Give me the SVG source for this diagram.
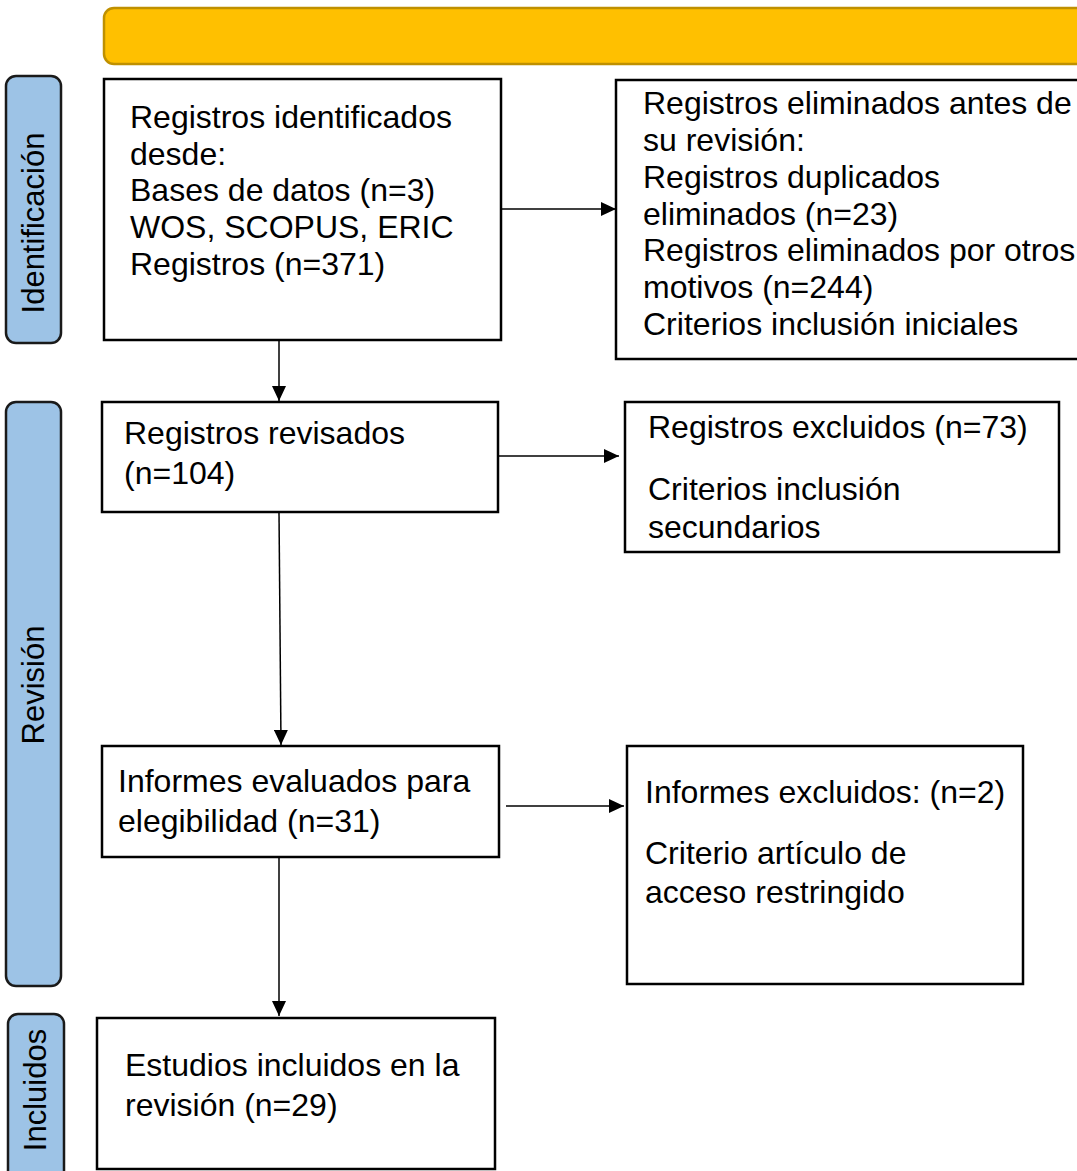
<svg xmlns="http://www.w3.org/2000/svg" width="1077" height="1171" viewBox="0 0 1077 1171">
<defs>
<marker id="ah" markerWidth="15" markerHeight="14" refX="15" refY="7" orient="auto" markerUnits="userSpaceOnUse" viewBox="0 0 15 14">
<path d="M0,0 L15,7 L0,14 Z" fill="#000"/>
</marker>
<style>
.box{fill:#fff;stroke:#000;stroke-width:2.5}
.side{fill:#9DC3E6;stroke:#1a1a1a;stroke-width:2.5}
.t{font-family:"Liberation Sans",Arial,sans-serif;font-size:32px;fill:#000}
.s{font-family:"Liberation Sans",Arial,sans-serif;font-size:31px;fill:#000;text-anchor:middle}
.c{stroke:#000;stroke-width:1.5;fill:none}
</style>
</defs>
<rect width="1077" height="1171" fill="#fff"/>
<g id="header"><rect x="104" y="8" width="1000" height="56" rx="10" fill="#FFC000" stroke="#BF9000" stroke-width="2.5"/></g>
<g id="side-identificacion"><rect x="6" y="76" width="55" height="267" rx="10" class="side"/><text class="s" transform="translate(44,223) rotate(-90)">Identificación</text></g>
<g id="side-revision"><rect x="6" y="402" width="55" height="584" rx="10" class="side"/><text class="s" transform="translate(44,685) rotate(-90)">Revisión</text></g>
<g id="side-incluidos"><rect x="8" y="1014" width="56" height="180" rx="10" class="side"/><text class="s" transform="translate(46,1090) rotate(-90)">Incluidos</text></g>
<g id="n1"><rect x="104" y="79" width="397" height="261" class="box"/>
<text class="t" x="130"><tspan x="130" y="128">Registros identificados</tspan><tspan x="130" y="165">desde:</tspan><tspan x="130" y="201">Bases de datos (n=3)</tspan><tspan x="130" y="238">WOS, SCOPUS, ERIC</tspan><tspan x="130" y="275">Registros (n=371)</tspan></text></g>
<g id="n2"><rect x="616" y="80" width="500" height="279" class="box"/>
<text class="t"><tspan x="643" y="114">Registros eliminados antes de</tspan><tspan x="643" y="151">su revisión:</tspan><tspan x="643" y="188">Registros duplicados</tspan><tspan x="643" y="225">eliminados (n=23)</tspan><tspan x="643" y="261">Registros eliminados por otros</tspan><tspan x="643" y="298">motivos (n=244)</tspan><tspan x="643" y="335">Criterios inclusión iniciales</tspan></text></g>
<g id="n3"><rect x="102" y="402" width="396" height="110" class="box"/>
<text class="t"><tspan x="124" y="444">Registros revisados</tspan><tspan x="124" y="484">(n=104)</tspan></text></g>
<g id="n4"><rect x="625" y="402" width="434" height="150" class="box"/>
<text class="t"><tspan x="648" y="438">Registros excluidos (n=73)</tspan><tspan x="648" y="500">Criterios inclusión</tspan><tspan x="648" y="538">secundarios</tspan></text></g>
<g id="n5"><rect x="102" y="746" width="397" height="111" class="box"/>
<text class="t"><tspan x="118" y="792">Informes evaluados para</tspan><tspan x="118" y="832">elegibilidad (n=31)</tspan></text></g>
<g id="n6"><rect x="627" y="746" width="396" height="238" class="box"/>
<text class="t"><tspan x="645" y="803">Informes excluidos: (n=2)</tspan><tspan x="645" y="864">Criterio artículo de</tspan><tspan x="645" y="903">acceso restringido</tspan></text></g>
<g id="n7"><rect x="97" y="1018" width="398" height="151" class="box"/>
<text class="t"><tspan x="125" y="1076">Estudios incluidos en la</tspan><tspan x="125" y="1116">revisión (n=29)</tspan></text></g>
<g id="connectors">
<line x1="501" y1="209" x2="616" y2="209" class="c" marker-end="url(#ah)"/>
<line x1="279" y1="340" x2="279" y2="401" class="c" marker-end="url(#ah)"/>
<line x1="498" y1="456" x2="619" y2="456" class="c" marker-end="url(#ah)"/>
<line x1="279" y1="512" x2="281" y2="745" class="c" marker-end="url(#ah)"/>
<line x1="506" y1="806" x2="624" y2="806" class="c" marker-end="url(#ah)"/>
<line x1="279" y1="857" x2="279" y2="1016" class="c" marker-end="url(#ah)"/>
</g>
</svg>
